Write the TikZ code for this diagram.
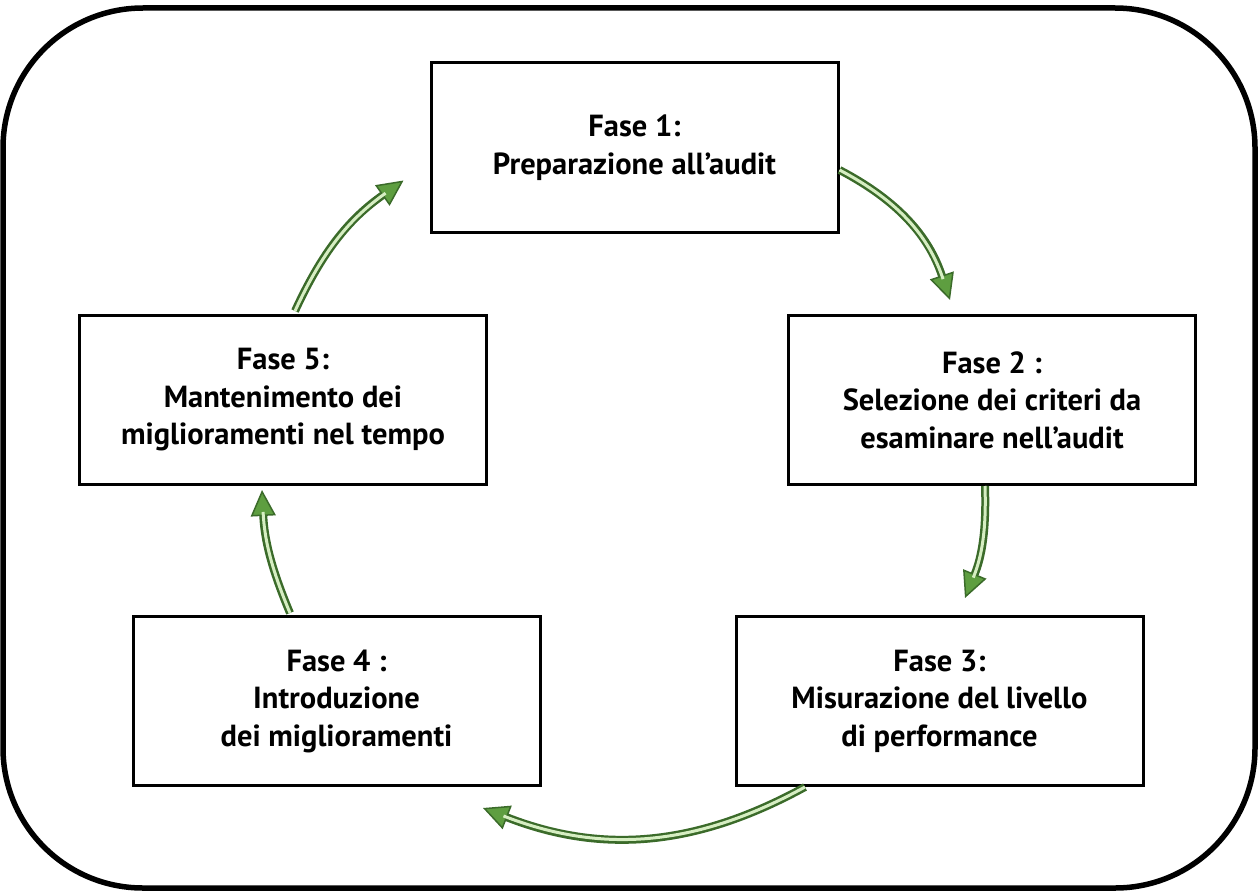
\documentclass[tikz,border=0pt]{standalone}
\usepackage{fontspec}
\setmainfont{PT Sans}
\usetikzlibrary{arrows.meta,calc}

\definecolor{leafdark}{HTML}{3B6B2A}
\definecolor{leaflight}{HTML}{D6EEC2}
\definecolor{leafhead}{HTML}{5E9E40}

\tikzset{
  fase/.style={draw, line width=3pt, minimum width=407pt, minimum height=169pt,
    align=center, font=\bfseries\fontsize{30.5}{37.5}\selectfont},
  flowout/.style={draw=leafdark, line width=8pt,
    -{Triangle[length=26pt,width=25pt,line width=1.5pt,fill=leafhead]}},
  flowin/.style={draw=leaflight, line width=3pt, shorten >=22pt},
}

\begin{document}
\begin{tikzpicture}[x=1pt,y=-1pt]
        \useasboundingbox (0,0) rectangle (1258,891);
        \draw[line width=5.5pt, rounded corners=140pt] (3,8) rectangle (1255,888);

        \node[fase] (f1) at (634.5,147.5) {Fase 1:\\Preparazione all’audit};
        \node[fase] (f2) at (992,400) {Fase 2 :\\Selezione dei criteri da\\esaminare nell’audit};
        \node[fase] (f3) at (939.5,701) {Fase 3:\\Misurazione del livello\\di performance};
        \node[fase] (f4) at (336.5,701) {Fase 4 :\\Introduzione\\dei miglioramenti};
        \node[fase] (f5) at (283,400) {Fase 5:\\Mantenimento dei\\miglioramenti nel tempo};

        \coordinate (s1) at ($(f1.east)+(0,22.5)$);
        \coordinate (t1) at ($(f2.north)+(-42,-14)$);
        \coordinate (s2) at ($(f2.south)+(-7,0)$);
        \coordinate (t2) at ($(f3.north)+(25.5,-17)$);
        \coordinate (s3) at ($(f3.south)+(-134.5,0)$);
        \coordinate (t3) at ($(f4.south)+(146.5,21)$);
        \coordinate (s4) at ($(f4.north)+(-46.5,-2)$);
        \coordinate (t4) at ($(f5.south)+(-21,4)$);
        \coordinate (s5) at ($(f5.north)+(12,-3)$);
        \coordinate (t5) at ($(f1.west)+(-26,33)$);

        \foreach \i/\bend in {1/22,2/12,3/25,4/10,5/15} {
          \draw[flowout] (s\i) to[bend left=\bend] (t\i);
          \draw[flowin] (s\i) to[bend left=\bend] (t\i);
        }
\end{tikzpicture}
\end{document}
